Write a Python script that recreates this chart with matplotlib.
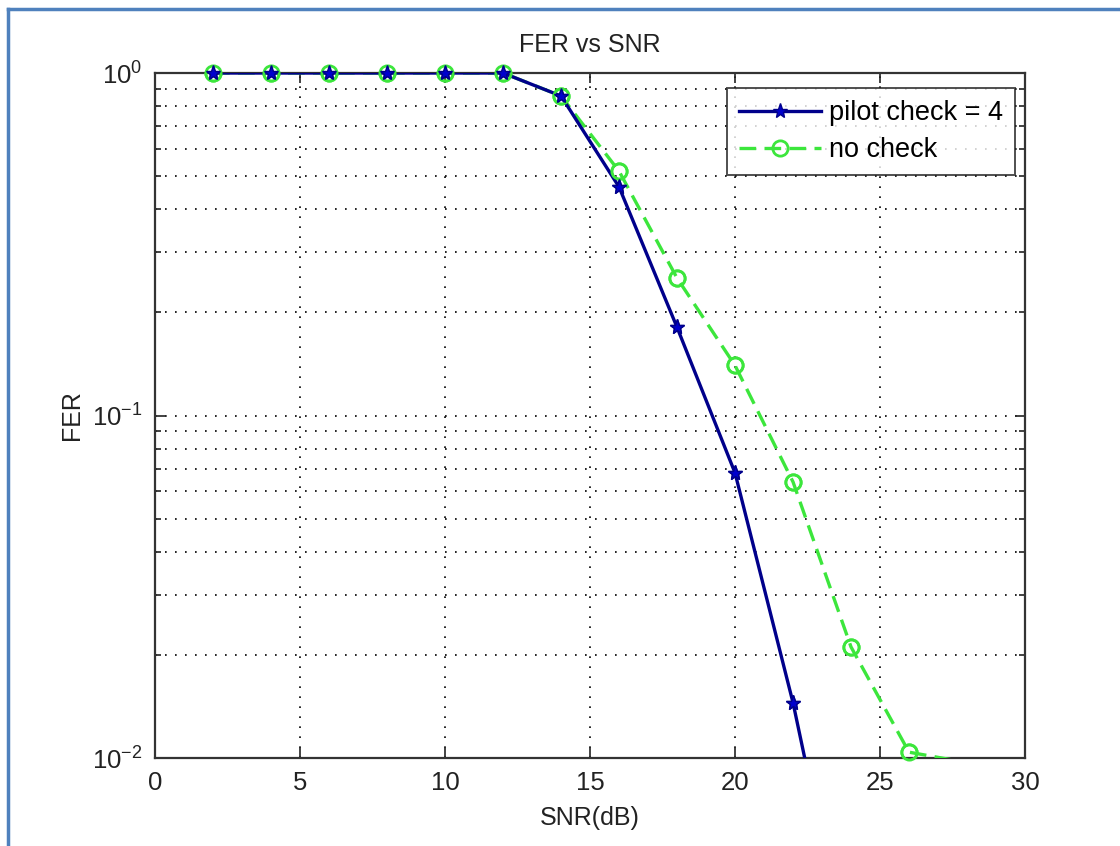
import matplotlib
matplotlib.use("Agg")
import matplotlib.pyplot as plt
from matplotlib.lines import Line2D
from matplotlib.ticker import LogLocator, FixedLocator, FixedFormatter, NullFormatter

plt.rcParams['font.family'] = ['Liberation Sans', 'DejaVu Sans']
plt.rcParams['mathtext.fontset'] = 'custom'
plt.rcParams['mathtext.rm'] = 'Liberation Sans'
plt.rcParams['mathtext.it'] = 'Liberation Sans'

snr = [2, 4, 6, 8, 10, 12, 14, 16, 18, 20, 22, 24, 26, 28]
fer_pilot = [1, 1, 1, 1, 1, 1, 0.857, 0.465, 0.181, 0.068, 0.0145, 0.0023, 0.0004, 0.0001]
fer_nocheck = [1, 1, 1, 1, 1, 1, 0.857, 0.517, 0.252, 0.140, 0.064, 0.0211, 0.0104, 0.0097]
xticks = [0, 5, 10, 15, 20, 25, 30]
yticks = [0.01, 0.1, 1]
ytick_labels = [r'$\mathregular{10^{-2}}$', r'$\mathregular{10^{-1}}$', r'$\mathregular{10^{0}}$']

fig = plt.figure(figsize=(11.2, 8.46), dpi=100)
ax = fig.add_axes([0.1384, 0.104, 0.7768, 0.8097])

blue = '#00008B'
green = '#3CE63C'
ymin = 0.01
vis_p_idx = [i for i, v in enumerate(fer_pilot) if v >= ymin]
vis_n_idx = [i for i, v in enumerate(fer_nocheck) if v >= ymin]

ax.semilogy(snr, fer_pilot, '-', color=blue, lw=2.4, marker='*', ms=11, markevery=vis_p_idx,
            mfc='#0000CD', mec=blue, label='pilot check = 4', zorder=4)
ax.semilogy(snr, fer_nocheck, '--', color=green, lw=2.4, marker='o', ms=11, markevery=vis_n_idx,
            mfc='none', mec=green, mew=2, label='no check', dashes=(5, 2.5), zorder=3)

# markers on the axes edge are drawn unclipped, as in the reference
ax.plot([snr[i] for i in vis_n_idx], [fer_nocheck[i] for i in vis_n_idx], ls='none',
        marker='o', ms=11, mfc='none', mec=green, mew=2, clip_on=False, zorder=5)
ax.plot([snr[i] for i in vis_p_idx], [fer_pilot[i] for i in vis_p_idx], ls='none',
        marker='*', ms=11, mfc='#0000CD', mec=blue, clip_on=False, zorder=6)

ax.set_xlim(0, 30)
ax.set_ylim(ymin, 1)
ax.xaxis.set_major_locator(FixedLocator(xticks))
ax.set_xticklabels([str(t) for t in xticks])
ax.yaxis.set_major_locator(FixedLocator(yticks))
ax.yaxis.set_major_formatter(FixedFormatter(ytick_labels))
ax.yaxis.set_minor_locator(LogLocator(base=10, subs=range(2, 10), numticks=20))
ax.yaxis.set_minor_formatter(NullFormatter())

ax.grid(True, which='major', axis='x', linestyle=(0, (1, 5)), color='black', lw=1.2)
ax.grid(True, which='both', axis='y', linestyle=(0, (1, 5)), color='black', lw=1.2)

ax.tick_params(which='both', direction='in', top=True, right=True, labelsize=18.5,
               colors='#222222', pad=9)
ax.tick_params(which='major', length=7, width=1.2)
ax.tick_params(which='minor', length=4, width=1.2)
for s in ax.spines.values():
    s.set_linewidth(1.6)
    s.set_color('#333333')

ax.set_title('FER vs SNR', fontsize=18, color='#222222', pad=15)
ax.set_xlabel('SNR(dB)', fontsize=18, color='#222222', labelpad=8)
ax.set_ylabel('FER', fontsize=18, color='#222222', labelpad=6)

leg = ax.legend(loc='upper right', bbox_to_anchor=(0.9885, 0.978), borderaxespad=0,
                fontsize=19.5, frameon=True, fancybox=False, edgecolor='#222222',
                handlelength=3.0, handletextpad=0.3, labelspacing=0.4, borderpad=0.45)
leg.get_frame().set_linewidth(1.4)
leg.set_zorder(10)

# page border (blue lines at top and left)
fig.add_artist(Line2D([0.007, 0.007], [0, 0.989], transform=fig.transFigure, color='#4F81BD', lw=2.5))
fig.add_artist(Line2D([0.007, 1], [0.989, 0.989], transform=fig.transFigure, color='#4F81BD', lw=2.5))

fig.savefig('out.png', dpi=100)
